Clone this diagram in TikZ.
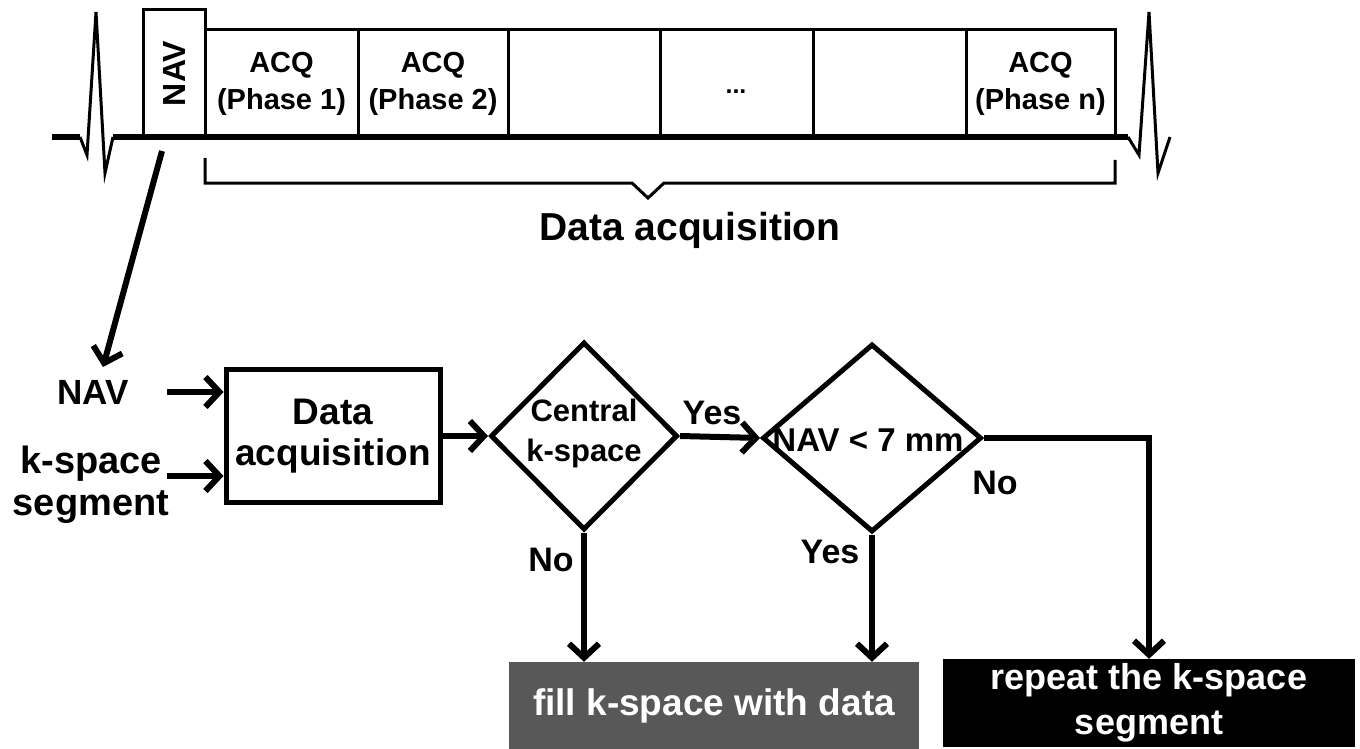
\documentclass[tikz,border=0pt]{standalone}
\usepackage{fontspec}
\setmainfont{Liberation Sans}
\usetikzlibrary{arrows.meta,shapes.geometric}

\definecolor{boxgray}{RGB}{88,88,88}
\newcommand{\fsz}[2]{\bfseries\fontsize{#1}{#2}\selectfont}

\tikzset{
  ecg/.style={line width=3pt, line join=miter},
  slot/.style={line width=3pt},
  base/.style={line width=6pt},
  flow/.style={line width=6pt, -{Straight Barb[length=14pt,width=30pt]}},
  decision/.style={diamond, draw, line width=5pt, inner sep=0pt},
  lbl/.style={font=\fsz{34}{38}, align=center},
}

\begin{document}
\begin{tikzpicture}[x=1pt,y=-1pt]
    \useasboundingbox (0,0) rectangle (1360,749);
    % ECG trace and acquisition window
    \draw[base] (52,137) -- (80,137);
    \draw[ecg] (80,137) -- (87,155) -- (96,12) -- (105,173) -- (113,137);
    \draw[base] (113,137) -- (1128,137);
    \draw[ecg] (1128,137) -- (1139,155) -- (1149,12) -- (1158,173) -- (1170,137);
    \draw[slot] (143,10) rectangle (205,137) node (navbox) [pos=.5, rotate=90, font=\fsz{32}{36}] {NAV};
    \draw[slot] (205,30) rectangle (358,137) node (acq1) [pos=.5, align=center, font=\fsz{29}{37}] {ACQ\\(Phase 1)};
    \draw[slot] (358,30) rectangle (508,137) node (acq2) [pos=.5, align=center, font=\fsz{29}{37}] {ACQ\\(Phase 2)};
    \draw[slot] (508,30) rectangle (660,137);
    \draw[slot] (660,30) rectangle (813,137);
    \node (dots) [anchor=base, font=\fsz{25}{30}] at (736,94) {...};
    \draw[slot] (813,30) rectangle (966,137);
    \draw[slot] (966,30) rectangle (1115,137) node (acqn) [pos=.5, align=center, font=\fsz{29}{37}] {ACQ\\(Phase n)};
    \draw[slot] (205,158) -- (205,183) -- (632,183) -- (648,198) -- (664,183) -- (1115,183) -- (1115,160);
    \node (acqlbl) [font=\fsz{39}{44}] at (690,230) {Data acquisition};

    % flow chart
    \coordinate (navout) at (162,151);
    \coordinate (navin) at (103,367);
    \draw[flow] (navout) -- (navin);

    \node (navlbl) [lbl, font=\fsz{35}{40}] at (93,392) {NAV};
    \node (seglbl) [lbl, font=\fsz{38}{42}] at (91,485) {k-space\\segment};
    \node (dbox) [draw, line width=5pt, minimum width=214pt, minimum height=133pt, lbl, font=\fsz{37}{41}] at (333,436) {Data\\acquisition};
    \node (cent) [decision, minimum width=187pt, minimum height=188pt] at (584,436) {};
    \node (centtxt) [lbl, font=\fsz{31}{40}] at (584,433) {Central\\k-space};
    \node (nav) [decision, minimum width=219pt, minimum height=188pt] at (872,438) {};
    \node (navtxt) [lbl, font=\fsz{33}{36}] at (868,440) {NAV < 7 mm};
    \node (fill) [fill=boxgray, text=white, minimum width=410pt, minimum height=87pt, lbl, font=\fsz{37}{42}] at (714,705.5) {fill k-space with data};
    \node (rep) [fill=black, text=white, minimum width=412pt, minimum height=88pt, lbl, font=\fsz{36}{45}] at (1149,703) {repeat the k-space\\segment};

    \coordinate (navsrc) at (167,392);
    \coordinate (segsrc) at (167,476);
    \draw[flow] (navsrc) -- (navsrc -| dbox.west);
    \draw[flow] (segsrc) -- (segsrc -| dbox.west);
    \draw[flow] (dbox.east) -- (cent.west);
    \draw[flow] (cent.east) -- (nav.west);
    \draw[flow] (cent.south) -- (cent.south |- fill.north);
    \draw[flow] (nav.south) -- (nav.south |- fill.north);
    \draw[flow] (nav.east) -| (rep.north);

    \node (yes1) [lbl] at (712,413) {Yes};
    \node (no1) [lbl] at (551,560) {No};
    \node (yes2) [lbl] at (830,552) {Yes};
    \node (no2) [lbl] at (995,483) {No};
  \end{tikzpicture}
\end{document}
